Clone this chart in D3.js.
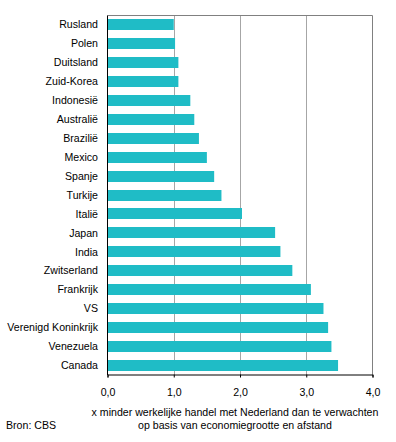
<!DOCTYPE html>
<html>
<head>
<meta charset="utf-8">
<script src="https://cdn.jsdelivr.net/npm/d3@7"></script>
<style>
  body { margin: 0; background: #fff; }
  text { font-family: "Liberation Sans", Arial, sans-serif; font-size: 10.6px; fill: #000; }
</style>
</head>
<body>
<div class="vis"></div>
<script>
var countries = ["Rusland", "Polen", "Duitsland", "Zuid-Korea", "Indonesië", "Australië", "Brazilië",
  "Mexico", "Spanje", "Turkije", "Italië", "Japan", "India", "Zwitserland", "Frankrijk", "VS",
  "Verenigd Koninkrijk", "Venezuela", "Canada"];
var factors = [1.00, 1.02, 1.07, 1.07, 1.25, 1.31, 1.38,
  1.50, 1.61, 1.72, 2.03, 2.53, 2.61, 2.79, 3.07, 3.26,
  3.33, 3.38, 3.48];
var ticks = [0, 1, 2, 3, 4];
var titleLines = ["x minder werkelijke handel met Nederland dan te verwachten",
  "op basis van economiegrootte en afstand"];
var source = "Bron: CBS";

var W = 396, H = 442;
var plot = { left: 107.5, right: 372.5, top: 15.5, bottom: 374.5 };

var svg = d3.select(".vis").append("svg")
  .attr("width", W)
  .attr("height", H);

var x = d3.scaleLinear().domain([0, 4]).range([plot.left, plot.right]);
var y = d3.scaleBand().domain(countries).range([15, 375])
  .paddingInner(0.42).paddingOuter(0.21);

// gridlines
svg.append("g")
  .selectAll("line")
  .data(ticks.slice(1, -1))
  .enter().append("line")
    .attr("x1", function(d){ return Math.round(x(d)) + 0.5; })
    .attr("x2", function(d){ return Math.round(x(d)) + 0.5; })
    .attr("y1", plot.top)
    .attr("y2", plot.bottom)
    .attr("stroke", "#a6a6a6");

// frame top + right
svg.append("path")
  .attr("d", "M" + plot.left + "," + plot.top + "H" + plot.right + "V" + plot.bottom)
  .attr("fill", "none")
  .attr("stroke", "#808080");

// bars
svg.append("g")
  .selectAll("rect")
  .data(countries)
  .enter().append("rect")
    .attr("x", x(0))
    .attr("y", function(d){ return Math.round(y(d)); })
    .attr("width", function(d, i){ return x(factors[i]) - x(0); })
    .attr("height", Math.round(y.bandwidth()))
    .attr("fill", "#1fbcc6");

// left axis line
svg.append("line")
  .attr("x1", plot.left).attr("x2", plot.left)
  .attr("y1", plot.top).attr("y2", plot.bottom + 0.5)
  .attr("stroke", "#000");

// category labels
svg.append("g")
  .selectAll("text")
  .data(countries)
  .enter().append("text")
    .attr("x", 98)
    .attr("y", function(d){ return y(d) + y.bandwidth() / 2; })
    .attr("dy", "0.35em")
    .attr("text-anchor", "end")
    .text(function(d){ return d; });

// x axis
var xAxis = d3.axisBottom(x)
  .tickValues(ticks)
  .tickSize(3)
  .tickPadding(11)
  .tickFormat(function(d){ return d3.format(".1f")(d).replace(".", ","); });

var gx = svg.append("g")
  .attr("transform", "translate(0," + plot.bottom + ")")
  .call(xAxis);
gx.select(".domain").attr("stroke", "#000");
gx.selectAll(".tick line").attr("stroke", "#000");
gx.selectAll("text").attr("font-size", null).attr("font-family", null).attr("fill", "#000");

// axis title
svg.append("g")
  .selectAll("text")
  .data(titleLines)
  .enter().append("text")
    .attr("x", 235)
    .attr("y", function(d, i){ return 416 + i * 13; })
    .attr("text-anchor", "middle")
    .text(function(d){ return d; });

svg.append("text")
  .attr("x", 6)
  .attr("y", 429)
  .text(source);
</script>
</body>
</html>
